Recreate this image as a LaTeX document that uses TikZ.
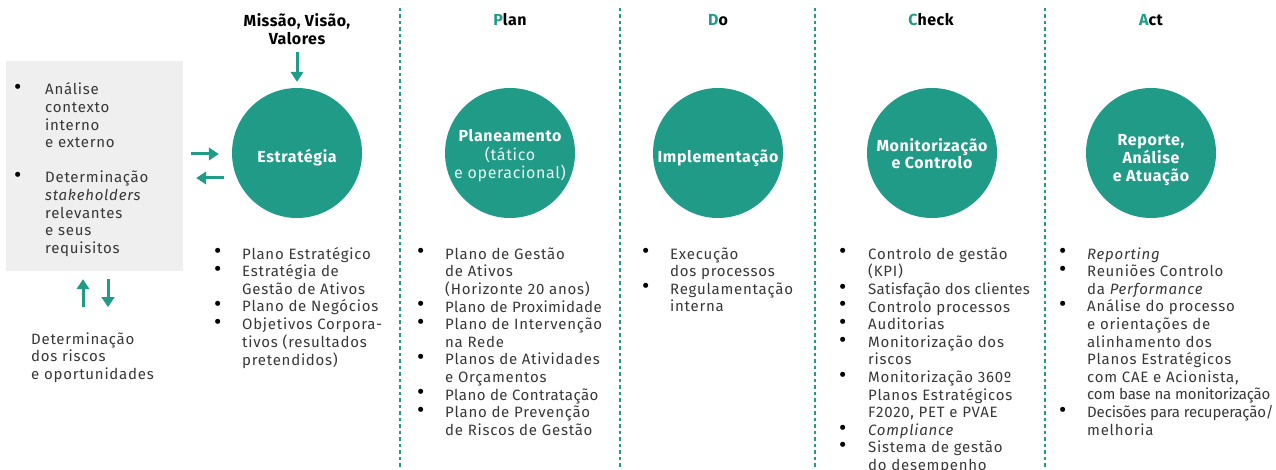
\documentclass[tikz,border=0pt]{standalone}
\usepackage{fontspec}
\setmainfont{Fira Sans}
\usepackage{tikz}
\usetikzlibrary{arrows.meta}

\definecolor{teal}{RGB}{32,155,135}
\definecolor{boxgray}{RGB}{239,239,239}
\definecolor{txt}{RGB}{55,55,55}

\newcommand{\blt}{\textcolor{black}{\raisebox{0.3pt}{\scalebox{1.5}{\textbullet}}}}
\newcommand{\tight}[2]{{\addfontfeatures{LetterSpace=#1}#2}}

\tikzset{
  phase/.style={circle, fill=teal, minimum size=130pt, inner sep=0pt, text=white,
                align=center, font=\fontsize{16}{18}\selectfont\bfseries\addfontfeatures{LetterSpace=4}},
  head/.style={font=\fontsize{16}{18}\selectfont\bfseries\addfontfeatures{LetterSpace=3}, align=center, inner sep=0pt},
  itemlist/.style={anchor=base west, inner sep=0pt, text=txt,
                   font=\fontsize{15}{17.6}\selectfont\addfontfeatures{LetterSpace=5}},
  arr/.style={teal, line width=3pt, -{Triangle[width=12.5pt,length=10pt]}},
  sep/.style={teal, line width=1.3pt, dash pattern=on 3.5pt off 3pt}
}

\begin{document}
\begin{tikzpicture}[x=1pt,y=-1pt]
    \useasboundingbox (0,0) rectangle (1276,470);

    % column separators
    \foreach \xs in {400,620,815,1045}
        \draw[sep] (\xs,8) -- (\xs,470);

    % headers
    \node[head] (mission) at (297,29) {Missão, Visão,\\Valores};
    \node[head, anchor=base] (plan)  at (510,26) {\textcolor{teal}{P}lan};
    \node[head, anchor=base] (do)    at (718,26) {\textcolor{teal}{D}o};
    \node[head, anchor=base] (check) at (931,26) {\textcolor{teal}{C}heck};
    \node[head, anchor=base] (act)   at (1151,26) {\textcolor{teal}{A}ct};

    % circles
    \node[phase, text height=22pt] (strategy) at (297,153) {Estratégia};
    \node[phase, text height=54pt] (planning) at (510,153) {Planeamento\\[1pt]{\mdseries\color{white!90!teal}(tático}\\{\mdseries\color{white!90!teal}e operacional)}};
    \node[phase, text height=23pt] (doing)    at (718,153) {Implementação};
    \node[phase, text height=31pt] (checking) at (932,153) {Monitorização\\[-1pt]e Controlo};
    \node[phase, text height=61pt] (acting)   at (1151,153) {Reporte,\\Análise\\e Atuação};

    % context box
    \node[fill=boxgray, minimum width=177pt, minimum height=210pt, inner sep=0pt] (box) at (94.5,166) {};
    \node[itemlist] (context) at (14,95) {\begin{tabular}[t]{@{}p{31pt}@{}l@{}}
        \blt & Análise\\
             & contexto\\
             & interno\\
             & e externo\\[17.6pt]
        \blt & Determinação\\
             & \textit{stakeholders}\\
             & relevantes\\
             & e seus\\
             & requisitos
        \end{tabular}};
    \node[itemlist] (risks) at (31,344) {\begin{tabular}[t]{@{}l@{}}
        Determinação\\ dos riscos\\ e oportunidades\end{tabular}};

    % arrows
    \draw[arr, shorten <=7pt, shorten >=6pt] (mission) -- (strategy);
    \draw[arr, shorten <=8pt, shorten >=13pt] ([yshift=12pt]box.east) -- ([yshift=12pt]box.east -| strategy.west);
    \draw[arr, shorten <=8pt, shorten >=13pt] ([yshift=-12pt]box.east -| strategy.west) -- ([yshift=-12pt]box.east);
    \draw[arr] ([xshift=-11.5pt,yshift=-36pt]box.south) -- ([xshift=-11.5pt,yshift=-8pt]box.south);
    \draw[arr] ([xshift=13.5pt,yshift=-8pt]box.south) -- ([xshift=13.5pt,yshift=-36pt]box.south);

    % lists
    \node[itemlist] (stratlist) at (214,259) {\begin{tabular}[t]{@{}p{28pt}@{}l@{}}
        \blt & Plano Estratégico\\
        \blt & Estratégia de\\
             & Gestão de Ativos\\
        \blt & Plano de Negócios\\
        \blt & Objetivos Corpora-\\
             & tivos (resultados\\
             & pretendidos)
        \end{tabular}};
    \node[itemlist] (planlist) at (417,259) {\begin{tabular}[t]{@{}p{28pt}@{}l@{}}
        \blt & Plano de Gestão\\
             & de Ativos\\
             & (Horizonte 20 anos)\\
        \blt & \tight{3}{Plano de Proximidade}\\
        \blt & Plano de Intervenção\\
             & na Rede\\
        \blt & Planos de Atividades\\
             & e Orçamentos\\
        \blt & \tight{3}{Plano de Contratação}\\
        \blt & Plano de Prevenção\\
             & de Riscos de Gestão
        \end{tabular}};
    \node[itemlist] (dolist) at (642,259) {\begin{tabular}[t]{@{}p{28pt}@{}l@{}}
        \blt & Execução\\
             & dos processos\\
        \blt & Regulamentação\\
             & interna
        \end{tabular}};
    \node[itemlist] (checklist) at (839,259) {\begin{tabular}[t]{@{}p{29pt}@{}l@{}}
        \blt & Controlo de gestão\\
             & (KPI)\\
        \blt & \tight{2}{Satisfação dos clientes}\\
        \blt & Controlo processos\\
        \blt & Auditorias\\
        \blt & Monitorização dos\\
             & riscos\\
        \blt & Monitorização 360º\\
             & Planos Estratégicos\\
             & F2020, PET e PVAE\\
        \blt & \textit{Compliance}\\
        \blt & Sistema de gestão\\
             & do desempenho
        \end{tabular}};
    \node[itemlist] (actlist) at (1059,259) {\begin{tabular}[t]{@{}p{28pt}@{}l@{}}
        \blt & \textit{Reporting}\\
        \blt & Reuniões Controlo\\
             & da \textit{Performance}\\
        \blt & Análise do processo\\
             & e orientações de\\
             & alinhamento dos\\
             & Planos Estratégicos\\
             & com CAE e Acionista,\\
             & \tight{-1}{com base na monitorização}\\
        \blt & \tight{-1}{Decisões para recuperação/}\\
             & melhoria
        \end{tabular}};
\end{tikzpicture}
\end{document}
